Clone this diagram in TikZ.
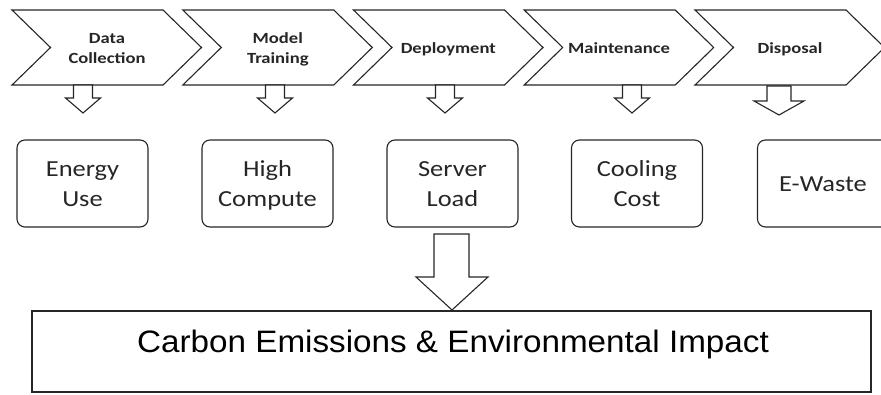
\documentclass[tikz,border=0pt]{standalone}
\usepackage{fontspec}
\setmainfont{Carlito}
\newfontfamily\chevfont[FakeStretch=1.2]{Carlito}
\newfontfamily\boxfont[FakeStretch=1.15]{Carlito}
\newfontfamily\bigfont[FakeStretch=1.072]{Liberation Sans}
\newcommand\cstr{\rule[-4.5pt]{0pt}{20pt}}
\newcommand\bstr{\rule[-7.3pt]{0pt}{30.5pt}}
\begin{document}
\begin{tikzpicture}[x=1pt,y=-1pt,
  chevline/.style={draw=black!85, line width=1.1pt, line join=miter, fill=white},
  chevtext/.style={align=center, inner sep=0pt, font=\chevfont\bfseries\fontsize{15.5}{20}\selectfont, text=black!85},
  rbox/.style={draw=black!85, line width=1.1pt, rounded corners=8pt, minimum width=131pt, minimum height=87pt, inner sep=0pt, align=center, font=\boxfont\fontsize{23}{30.5}\selectfont, text=black!85},
  bigbox/.style={draw=black!85, line width=1.6pt, minimum width=839pt, minimum height=81pt, inner sep=0pt},
  bigtext/.style={inner sep=0pt, font=\bigfont\fontsize{31}{36}\selectfont, text=black},
  blockarrow/.style={draw=black!85, line width=1.1pt, fill=white, line join=miter}
]
\useasboundingbox (0,0) rectangle (881,394);

% chevrons
\foreach \L in {12,182.8,353.5,524.2,695}{
  \path[chevline] (\L,10) -- (\L+151,10) -- (\L+189.5,47.5) -- (\L+151,85) -- (\L,85) -- (\L+38.5,47.5) -- cycle;
}
\node[chevtext] (c1) at (107,47.5) {\cstr Data\\\cstr Collection};
\node[chevtext] (c2) at (277.8,47.5) {\cstr Model\\\cstr Training};
\node[chevtext] (c3) at (448.3,47.5) {\cstr Deployment};
\node[chevtext] (c4) at (619,47.5) {\cstr Maintenance};
\node[chevtext] (c5) at (790,47.5) {\cstr Disposal};

% small block arrows
\foreach \cx in {83,275,445,632}{
  \path[blockarrow] (\cx-9.5,85) -- (\cx-9.5,98) -- (\cx-17.5,98) -- (\cx,113) -- (\cx+17.5,98) -- (\cx+9.5,98) -- (\cx+9.5,85) -- cycle;
}
\path[blockarrow] (767,86) -- (767,101) -- (754,101) -- (779,115) -- (804,101) -- (791,101) -- (791,86) -- cycle;

% boxes
\node[rbox] (b1) at (82.5,183.5) {\bstr Energy\\\bstr Use};
\node[rbox] (b2) at (267.5,183.5) {\bstr High\\\bstr Compute};
\node[rbox] (b3) at (452.5,183.5) {\bstr Server\\\bstr Load};
\node[rbox] (b4) at (637,183.5) {\bstr Cooling\\\bstr Cost};
\node[rbox] (b5) at (823,183.5) {\bstr E-Waste};

% big arrow
\path[blockarrow] (434,234) -- (434,277) -- (416,277) -- (452,310) -- (488,277) -- (469,277) -- (469,234) -- cycle;

% impact box
\node[bigbox] (imp) at (451.5,351.5) {};
\node[bigtext, anchor=base] (impt) at (453,352) {Carbon Emissions \& Environmental Impact};
\end{tikzpicture}
\end{document}
